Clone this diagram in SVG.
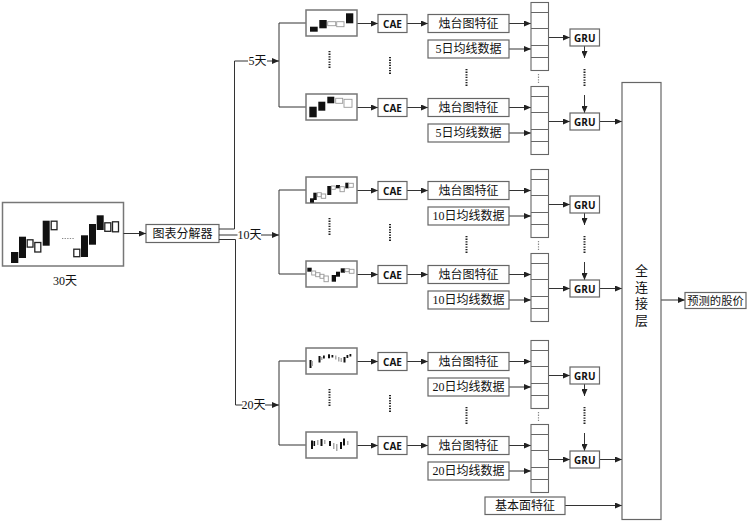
<svg xmlns="http://www.w3.org/2000/svg" width="747" height="522" viewBox="0 0 747 522">
<defs>
<marker id="ah" markerUnits="userSpaceOnUse" markerWidth="7" markerHeight="6" refX="7" refY="3" orient="auto"><path d="M0,0 L7,3 L0,6 z" fill="#222"/></marker>
<style>
.box{fill:#fff;stroke:#666;stroke-width:1.2}
.img{fill:#fff;stroke:#777;stroke-width:1.5}
.vec{fill:#fff;stroke:#666;stroke-width:1.1}
.div{stroke:#666;stroke-width:1}
.ln{fill:none;stroke:#333;stroke-width:1}
.ar{fill:none;stroke:#333;stroke-width:1;marker-end:url(#ah)}
.dot{stroke:#222;stroke-width:2;stroke-dasharray:1.3 1.3}
.dotl{stroke:#888;stroke-width:1.2;stroke-dasharray:1.3 1.3}
.t{font-family:"Liberation Serif","Noto Sans CJK SC",serif;font-size:12px;fill:#111;text-anchor:middle;dominant-baseline:central}
.b{font-family:"Open Sans","Liberation Sans",sans-serif;font-weight:700;font-size:10px;fill:#111;text-anchor:middle;dominant-baseline:central}
.k{fill:#111}
.w{fill:#fff;stroke:#222;stroke-width:1.3}
.g{fill:#fff;stroke:#999;stroke-width:0.9}
.gk{fill:#aaa}
</style>
</defs>

<g id="input-image">
<rect class="img" x="2.5" y="202.5" width="121" height="63.5"/>
<rect class="k" x="11" y="252" width="7.3" height="11"/>
<rect class="k" x="19" y="236.7" width="7" height="21.3"/>
<rect class="w" x="27.2" y="239.8" width="5.8" height="7.3"/>
<rect class="w" x="34.8" y="242.5" width="6" height="9.5"/>
<rect class="k" x="42.7" y="220.7" width="7" height="25"/>
<rect class="w" x="51.2" y="221.2" width="5.8" height="8.5"/>
<line x1="62" y1="238.5" x2="74" y2="238.5" class="dotl"/>
<rect class="w" x="73.8" y="249.2" width="6" height="7.5"/>
<rect class="k" x="81" y="235.3" width="7" height="21.7"/>
<rect class="k" x="89" y="224" width="7" height="20.7"/>
<rect class="k" x="96.7" y="215.3" width="7" height="14.7"/>
<rect class="w" x="104.8" y="222.8" width="6" height="8.5"/>
<rect class="w" x="112.5" y="221.8" width="6" height="10"/>
<text class="t" x="65" y="281">30天</text>
</g>

<g id="decomposer">
<rect class="box" x="146" y="224.5" width="73" height="18"/>
<text class="t" x="182.5" y="233.5">图表分解器</text>
</g>

<g id="connectors">
<line class="ar" x1="123.5" y1="233.5" x2="146" y2="233.5"/>
<path class="ln" d="M219,229 H234.5 V61 H248"/>
<line class="ar" x1="267" y1="61" x2="279" y2="61"/>
<line class="ln" x1="219" y1="235" x2="237.5" y2="235"/>
<line class="ar" x1="261" y1="235" x2="279" y2="235"/>
<path class="ln" d="M219,239.5 H235.5 V405 H242.5"/>
<line class="ar" x1="265" y1="405" x2="279" y2="405"/>

<!-- group 1 -->
<path class="ln" d="M306,23 H279 V107 H306"/>
<line class="ar" x1="357" y1="23.5" x2="378" y2="23.5"/>
<line class="ar" x1="407" y1="23.5" x2="428" y2="23.5"/>
<line class="ar" x1="509" y1="23.5" x2="531" y2="23.5"/>
<line class="ar" x1="509" y1="49" x2="531" y2="49"/>
<line class="ar" x1="548.5" y1="37.5" x2="570" y2="37.5"/>
<line class="ar" x1="357" y1="107.5" x2="378" y2="107.5"/>
<line class="ar" x1="407" y1="107.5" x2="428" y2="107.5"/>
<line class="ar" x1="509" y1="107.5" x2="531" y2="107.5"/>
<line class="ar" x1="509" y1="133" x2="531" y2="133"/>
<line class="ar" x1="548.5" y1="121.5" x2="570" y2="121.5"/>
<line class="ar" x1="584.5" y1="46" x2="584.5" y2="58"/>
<line class="ar" x1="584.5" y1="95" x2="584.5" y2="113"/>
<line class="ar" x1="599.5" y1="121.5" x2="622" y2="121.5"/>
<line class="dot" x1="329.5" y1="51" x2="329.5" y2="69"/>
<line class="dot" x1="390" y1="57" x2="390" y2="74"/>
<line class="dot" x1="466.5" y1="69" x2="466.5" y2="87"/>
<line class="dotl" x1="538.5" y1="74" x2="538.5" y2="83"/>
<line class="dot" x1="584.5" y1="69" x2="584.5" y2="87"/>

<!-- group 2 -->
<path class="ln" d="M306,190 H279 V274 H306"/>
<line class="ar" x1="357" y1="190.5" x2="378" y2="190.5"/>
<line class="ar" x1="407" y1="190.5" x2="428" y2="190.5"/>
<line class="ar" x1="509" y1="190.5" x2="531" y2="190.5"/>
<line class="ar" x1="509" y1="216" x2="531" y2="216"/>
<line class="ar" x1="548.5" y1="204.5" x2="570" y2="204.5"/>
<line class="ar" x1="357" y1="274.5" x2="378" y2="274.5"/>
<line class="ar" x1="407" y1="274.5" x2="428" y2="274.5"/>
<line class="ar" x1="509" y1="274.5" x2="531" y2="274.5"/>
<line class="ar" x1="509" y1="300" x2="531" y2="300"/>
<line class="ar" x1="548.5" y1="288.5" x2="570" y2="288.5"/>
<line class="ar" x1="584.5" y1="213" x2="584.5" y2="225"/>
<line class="ar" x1="584.5" y1="262" x2="584.5" y2="280"/>
<line class="ar" x1="599.5" y1="288.5" x2="622" y2="288.5"/>
<line class="dot" x1="329.5" y1="218" x2="329.5" y2="236"/>
<line class="dot" x1="390" y1="224" x2="390" y2="241"/>
<line class="dot" x1="466.5" y1="236" x2="466.5" y2="254"/>
<line class="dotl" x1="538.5" y1="241" x2="538.5" y2="250"/>
<line class="dot" x1="584.5" y1="236" x2="584.5" y2="254"/>

<!-- group 3 -->
<path class="ln" d="M306,361 H279 V445 H306"/>
<line class="ar" x1="357" y1="361.5" x2="378" y2="361.5"/>
<line class="ar" x1="407" y1="361.5" x2="428" y2="361.5"/>
<line class="ar" x1="509" y1="361.5" x2="531" y2="361.5"/>
<line class="ar" x1="509" y1="387" x2="531" y2="387"/>
<line class="ar" x1="548.5" y1="375.5" x2="570" y2="375.5"/>
<line class="ar" x1="357" y1="445.5" x2="378" y2="445.5"/>
<line class="ar" x1="407" y1="445.5" x2="428" y2="445.5"/>
<line class="ar" x1="509" y1="445.5" x2="531" y2="445.5"/>
<line class="ar" x1="509" y1="471" x2="531" y2="471"/>
<line class="ar" x1="548.5" y1="459.5" x2="570" y2="459.5"/>
<line class="ar" x1="584.5" y1="384" x2="584.5" y2="396"/>
<line class="ar" x1="584.5" y1="433" x2="584.5" y2="451"/>
<line class="ar" x1="599.5" y1="459.5" x2="622" y2="459.5"/>
<line class="dot" x1="329.5" y1="389" x2="329.5" y2="407"/>
<line class="dot" x1="390" y1="395" x2="390" y2="412"/>
<line class="dot" x1="466.5" y1="407" x2="466.5" y2="425"/>
<line class="dotl" x1="538.5" y1="412" x2="538.5" y2="421"/>
<line class="dot" x1="584.5" y1="407" x2="584.5" y2="425"/>

<line class="ar" x1="565" y1="505.5" x2="622" y2="505.5"/>
<line class="ar" x1="661" y1="300" x2="685" y2="300"/>
</g>

<g id="labels">
<text class="t" x="257.5" y="61">5天</text>
<text class="t" x="249.5" y="235">10天</text>
<text class="t" x="253.5" y="405">20天</text>
</g>

<!-- ===== Group 1 (5天) ===== -->
<g id="g1-img1">
<rect class="img" x="306" y="10" width="51" height="26"/>
<rect class="k" x="310" y="26.7" width="7.7" height="5"/>
<rect class="k" x="319.3" y="20" width="7.4" height="8.3"/>
<rect class="g" x="327.7" y="21.7" width="8" height="4"/>
<rect class="g" x="336.7" y="21.7" width="7.3" height="5"/>
<rect class="k" x="346" y="13.3" width="7.3" height="10"/>
</g>
<g id="g1-img2">
<rect class="img" x="306" y="94" width="51" height="26"/>
<rect class="k" x="309.3" y="106.7" width="7.4" height="10.6"/>
<rect class="k" x="318.3" y="101.7" width="7" height="9"/>
<rect class="k" x="327.3" y="96.7" width="7" height="6.6"/>
<rect class="g" x="335.7" y="98.3" width="7" height="5"/>
<rect class="g" x="344" y="99.3" width="8" height="8"/>
</g>
<g id="g1-cae1"><rect class="box" x="378" y="14.5" width="29" height="18"/><text class="b" x="392.5" y="23.5">CAE</text></g>
<g id="g1-cae2"><rect class="box" x="378" y="98.5" width="29" height="18"/><text class="b" x="392.5" y="107.5">CAE</text></g>
<g id="g1-feat1"><rect class="box" x="428" y="14.5" width="81" height="18"/><text class="t" x="468.5" y="23.5">烛台图特征</text></g>
<g id="g1-ma1"><rect class="box" x="428" y="40" width="81" height="18"/><text class="t" x="468.5" y="49">5日均线数据</text></g>
<g id="g1-feat2"><rect class="box" x="428" y="98.5" width="81" height="18"/><text class="t" x="468.5" y="107.5">烛台图特征</text></g>
<g id="g1-ma2"><rect class="box" x="428" y="124" width="81" height="18"/><text class="t" x="468.5" y="133">5日均线数据</text></g>
<g id="g1-vec1"><rect class="vec" x="531" y="2.5" width="17.5" height="68"/><path class="div" d="M531,12.5h17.5M531,28.5h17.5M531,45.5h17.5M531,57.5h17.5"/></g>
<g id="g1-vec2"><rect class="vec" x="531" y="86.5" width="17.5" height="68"/><path class="div" d="M531,96.5h17.5M531,112.5h17.5M531,129.5h17.5M531,141.5h17.5"/></g>
<g id="g1-gru1"><rect class="box" x="570" y="29" width="29.5" height="17"/><text class="b" x="584.75" y="37.5">GRU</text></g>
<g id="g1-gru2"><rect class="box" x="570" y="113" width="29.5" height="17"/><text class="b" x="584.75" y="121.5">GRU</text></g>

<!-- ===== Group 2 (10天) ===== -->
<g id="g2-img1">
<rect class="img" x="306" y="177" width="51" height="26"/>
<rect class="k" x="310" y="198.3" width="4" height="4.4"/>
<rect class="k" x="313.3" y="192.7" width="3.4" height="7.3"/>
<rect class="g" x="317.3" y="192.7" width="4" height="4"/>
<rect class="g" x="321.3" y="194" width="4.4" height="4.3"/>
<rect class="k" x="327.3" y="186" width="4" height="9"/>
<rect class="g" x="331.3" y="186" width="4" height="3.3"/>
<rect class="k" x="336" y="185" width="4" height="3.3"/>
<rect class="g" x="340" y="186.7" width="4.3" height="5"/>
<rect class="k" x="345.3" y="182.7" width="3.4" height="5.6"/>
<rect class="g" x="348.7" y="183.3" width="4.6" height="4"/>
</g>
<g id="g2-img2">
<rect class="img" x="306" y="261" width="51" height="26"/>
<rect class="k" x="307.3" y="267.7" width="4.4" height="4"/>
<rect class="g" x="311.7" y="271" width="4" height="4"/>
<rect class="g" x="315.7" y="272.7" width="4.3" height="4"/>
<rect class="g" x="320" y="274.3" width="4" height="4"/>
<rect class="g" x="324" y="276" width="4.3" height="5.7"/>
<rect class="k" x="331.7" y="275" width="4.3" height="6.7"/>
<rect class="k" x="336" y="271.7" width="4" height="5"/>
<rect class="k" x="340.7" y="268.3" width="4.3" height="4.4"/>
<rect class="g" x="345" y="268.7" width="4.3" height="3"/>
<rect class="g" x="349.3" y="269.3" width="4.7" height="4"/>
</g>
<g id="g2-cae1"><rect class="box" x="378" y="181.5" width="29" height="18"/><text class="b" x="392.5" y="190.5">CAE</text></g>
<g id="g2-cae2"><rect class="box" x="378" y="265.5" width="29" height="18"/><text class="b" x="392.5" y="274.5">CAE</text></g>
<g id="g2-feat1"><rect class="box" x="428" y="181.5" width="81" height="18"/><text class="t" x="468.5" y="190.5">烛台图特征</text></g>
<g id="g2-ma1"><rect class="box" x="428" y="207" width="81" height="18"/><text class="t" x="468.5" y="216">10日均线数据</text></g>
<g id="g2-feat2"><rect class="box" x="428" y="265.5" width="81" height="18"/><text class="t" x="468.5" y="274.5">烛台图特征</text></g>
<g id="g2-ma2"><rect class="box" x="428" y="291" width="81" height="18"/><text class="t" x="468.5" y="300">10日均线数据</text></g>
<g id="g2-vec1"><rect class="vec" x="531" y="169.5" width="17.5" height="68"/><path class="div" d="M531,179.5h17.5M531,195.5h17.5M531,212.5h17.5M531,224.5h17.5"/></g>
<g id="g2-vec2"><rect class="vec" x="531" y="253.5" width="17.5" height="68"/><path class="div" d="M531,263.5h17.5M531,279.5h17.5M531,296.5h17.5M531,308.5h17.5"/></g>
<g id="g2-gru1"><rect class="box" x="570" y="196" width="29.5" height="17"/><text class="b" x="584.75" y="204.5">GRU</text></g>
<g id="g2-gru2"><rect class="box" x="570" y="280" width="29.5" height="17"/><text class="b" x="584.75" y="288.5">GRU</text></g>

<!-- ===== Group 3 (20天) ===== -->
<g id="g3-img1">
<rect class="img" x="306" y="348" width="51" height="26"/>
<rect class="k" x="309.5" y="360" width="2" height="8"/>
<rect class="gk" x="311.5" y="361" width="1.5" height="5"/>
<rect class="k" x="318.5" y="356" width="2" height="6.5"/>
<rect class="gk" x="321" y="357" width="1.5" height="3"/>
<rect class="k" x="323" y="355.5" width="1.8" height="3"/>
<rect class="k" x="328" y="354.3" width="2" height="4"/>
<rect class="k" x="331.5" y="355" width="1.8" height="2.5"/>
<rect class="gk" x="335" y="355.5" width="1.5" height="4"/>
<rect class="gk" x="338" y="357" width="1.5" height="4.5"/>
<rect class="gk" x="340.5" y="358" width="1.5" height="4"/>
<rect class="k" x="343.5" y="357" width="2" height="5.5"/>
<rect class="k" x="346.5" y="355" width="1.8" height="3"/>
<rect class="k" x="349.5" y="354" width="1.8" height="2.5"/>
</g>
<g id="g3-img2">
<rect class="img" x="306" y="432" width="51" height="26"/>
<rect class="k" x="311" y="440.5" width="2" height="8.5"/>
<rect class="k" x="313.5" y="441" width="1.6" height="5"/>
<rect class="gk" x="317" y="440" width="1.5" height="5"/>
<rect class="k" x="320.5" y="439" width="2" height="7"/>
<rect class="gk" x="324" y="440" width="1.5" height="4"/>
<rect class="k" x="329" y="441" width="2" height="5"/>
<rect class="gk" x="333" y="443" width="1.5" height="6"/>
<rect class="gk" x="336" y="444" width="1.5" height="7"/>
<rect class="k" x="340" y="442" width="2" height="7"/>
<rect class="k" x="343" y="438.5" width="2" height="7"/>
<rect class="gk" x="347" y="441" width="1.5" height="4"/>
</g>
<g id="g3-cae1"><rect class="box" x="378" y="352.5" width="29" height="18"/><text class="b" x="392.5" y="361.5">CAE</text></g>
<g id="g3-cae2"><rect class="box" x="378" y="436.5" width="29" height="18"/><text class="b" x="392.5" y="445.5">CAE</text></g>
<g id="g3-feat1"><rect class="box" x="428" y="352.5" width="81" height="18"/><text class="t" x="468.5" y="361.5">烛台图特征</text></g>
<g id="g3-ma1"><rect class="box" x="428" y="378" width="81" height="18"/><text class="t" x="468.5" y="387">20日均线数据</text></g>
<g id="g3-feat2"><rect class="box" x="428" y="436.5" width="81" height="18"/><text class="t" x="468.5" y="445.5">烛台图特征</text></g>
<g id="g3-ma2"><rect class="box" x="428" y="462" width="81" height="18"/><text class="t" x="468.5" y="471">20日均线数据</text></g>
<g id="g3-vec1"><rect class="vec" x="531" y="340.5" width="17.5" height="68"/><path class="div" d="M531,350.5h17.5M531,366.5h17.5M531,383.5h17.5M531,395.5h17.5"/></g>
<g id="g3-vec2"><rect class="vec" x="531" y="424.5" width="17.5" height="68"/><path class="div" d="M531,434.5h17.5M531,450.5h17.5M531,467.5h17.5M531,479.5h17.5"/></g>
<g id="g3-gru1"><rect class="box" x="570" y="367" width="29.5" height="17"/><text class="b" x="584.75" y="375.5">GRU</text></g>
<g id="g3-gru2"><rect class="box" x="570" y="451" width="29.5" height="17"/><text class="b" x="584.75" y="459.5">GRU</text></g>

<g id="fundamental"><rect class="box" x="485" y="497" width="80" height="17.5"/><text class="t" x="525" y="506">基本面特征</text></g>

<g id="fc-layer">
<rect class="box" x="622" y="82.5" width="39" height="437"/>
<text class="t" x="641.5" y="270" style="font-size:13px">全</text>
<text class="t" x="641.5" y="287" style="font-size:13px">连</text>
<text class="t" x="641.5" y="303.5" style="font-size:13px">接</text>
<text class="t" x="641.5" y="320" style="font-size:13px">层</text>
</g>

<g id="output"><rect class="box" x="685" y="292.5" width="61" height="16"/><text class="t" x="715.5" y="300.5" style="font-size:11.3px">预测的股价</text></g>
</svg>
